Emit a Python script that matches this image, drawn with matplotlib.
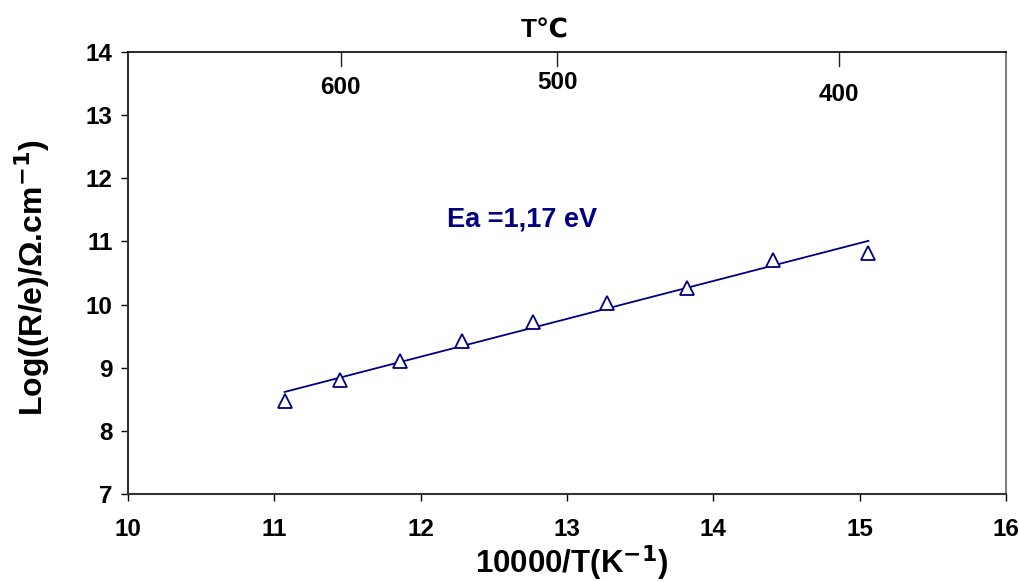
import matplotlib
matplotlib.use("Agg")
import matplotlib.pyplot as plt
import numpy as np

plt.rcParams["font.family"] = ["Liberation Sans", "DejaVu Sans"]
plt.rcParams["font.weight"] = "bold"
plt.rcParams["mathtext.default"] = "bf"

# measured points: 10000/T (K^-1) vs log(R/e)
inv_t = [11.07, 11.45, 11.86, 12.28, 12.77, 13.27, 13.82, 14.41, 15.06]
log_r = [8.48, 8.80, 9.11, 9.42, 9.72, 10.03, 10.27, 10.71, 10.82]

# temperatures marked on the top axis (deg C)
temps_c = [600, 500, 400]
temp_label_y = [13.44, 13.52, 13.33]

navy = "#000080"

fig = plt.figure(figsize=(10.2, 5.81), dpi=100)
ax = fig.add_axes([0.1255, 0.1497, 0.8608, 0.7608])

# linear fit (Arrhenius)
slope, icpt = np.polyfit(inv_t, log_r, 1)
xfit = np.array([inv_t[0], inv_t[-1]])
ax.plot(xfit, slope * xfit + icpt, color=navy, lw=1.3)
ax.plot(inv_t, log_r, ls="none", marker="^", ms=10, mfc="white",
        mec=navy, mew=1.3)

ax.set_xlim(10, 16)
ax.set_ylim(7, 14)
ax.set_xticks(range(10, 17))
ax.set_yticks(range(7, 15))
ax.tick_params(direction="out", length=5, width=1, labelsize=17.5)
ax.tick_params(axis="x", pad=12)
ax.tick_params(axis="y", pad=6)
for lab in ax.get_xticklabels() + ax.get_yticklabels():
    lab.set_fontweight("bold")

for s in ["left", "bottom"]:
    ax.spines[s].set_color("#333333")
    ax.spines[s].set_linewidth(1.5)
ax.spines["top"].set_color("black")
ax.spines["top"].set_linewidth(1.2)
ax.spines["right"].set_color("#808080")
ax.spines["right"].set_linewidth(1.5)

# top axis: temperature in deg C
top_pos = [10000.0 / (t + 273.15) for t in temps_c]
for xp, t, ty in zip(top_pos, temps_c, temp_label_y):
    ax.plot([xp, xp], [14, 13.78], color="#222222", lw=1, clip_on=False)
    ax.text(xp, ty, str(t), ha="center", va="center", fontsize=17.5,
            fontweight="bold")

ax.text(12.69, 11.35, "Ea =1,17 eV", color=navy, fontsize=19.5,
        fontweight="bold", ha="center", va="center")

fig.text(572 / 1020, 1 - 573 / 581, "10000/T(K$^{-1}$)", fontsize=22.5,
         fontweight="bold", ha="center", va="baseline")
fig.text(43 / 1020, 1 - 278 / 581, "Log((R/e)/\u03a9.cm$^{-1}$)", fontsize=23,
         fontweight="bold", ha="center", va="baseline", rotation=90,
         rotation_mode="anchor")
fig.text(545 / 1020, 1 - 30 / 581, "T\u2103", ha="center", va="center",
         fontsize=19, fontweight="bold")

fig.savefig("out.png", dpi=100)
